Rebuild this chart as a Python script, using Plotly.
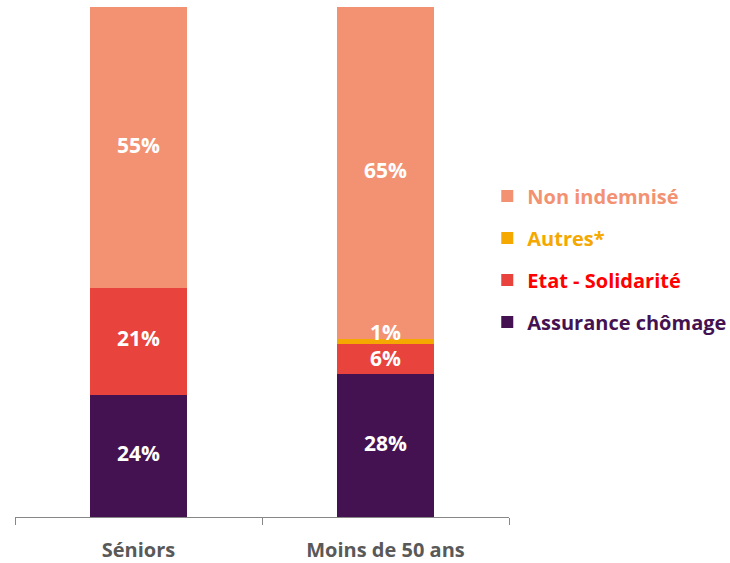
import plotly.graph_objects as go
import numpy as np

categories = ["Séniors", "Moins de 50 ans"]
series_names = ["Assurance chômage", "Etat - Solidarité", "Autres*", "Non indemnisé"]
assurance = [24, 28]
etat = [21, 6]
autres = [0, 1]
non_indemnise = [55, 65]

bar_colors = ["#451251", "#E8433D", "#F5A800", "#F39273"]
text_colors = ["#451251", "#FF0000", "#F5A800", "#F39273"]
values = [assurance, etat, autres, non_indemnise]

FONT = "Open Sans"
fig = go.Figure()
n = len(series_names)
for i, (name, vals) in enumerate(zip(series_names, values)):
    fig.add_trace(go.Bar(
        x=categories, y=vals,
        name=f"<b><span style='color:{text_colors[i]}'>{name}</span></b>",
        marker=dict(color=bar_colors[i], line=dict(width=0)),
        legendgroup=str(i),
        legendrank=n - i,
        hoverinfo="skip",
    ))

# data labels at segment midpoints
cum = np.zeros(len(categories))
lx, ly, lt = [], [], []
for vals in values:
    v = np.array(vals, dtype=float)
    for j, c in enumerate(categories):
        if v[j] > 0:
            lx.append(c)
            ly.append(cum[j] + v[j] / 2 + (1.3 if v[j] < 2 else -0.4 if v[j] < 10 else 0))
            lt.append(f"<b>{int(v[j])}%</b>")
    cum += v
fig.add_trace(go.Scatter(x=lx, y=ly, text=lt, mode="text",
                         textfont=dict(color="white", size=21, family=FONT),
                         showlegend=False, hoverinfo="skip"))

fig.update_layout(
    barmode="stack",
    width=730, height=563,
    margin=dict(l=15, r=221, t=7, b=46, autoexpand=False),
    plot_bgcolor="white", paper_bgcolor="white",
    bargap=0.61,
    showlegend=True,
    legend=dict(traceorder="grouped", x=0.956, xanchor="left", y=0.506, yanchor="middle",
                font=dict(size=20, family=FONT), tracegroupgap=13, itemwidth=30,
                bgcolor="rgba(0,0,0,0)"),
    font=dict(family=FONT),
)
fig.update_xaxes(showline=True, linecolor="#878787", linewidth=1,
                 ticks="outside", tickson="boundaries", ticklen=7, tickcolor="#878787",
                 tickfont=dict(size=20, color="#595959", family=FONT),
                 ticklabelstandoff=15, automargin=False,
                 tickprefix="<b>", ticksuffix="</b>", showgrid=False)
fig.update_yaxes(range=[0, 100], visible=False, showgrid=False)

fig.write_html("out.html", config={"displayModeBar": False},
               post_script="document.body.style.margin='0';document.body.style.padding='0';")
